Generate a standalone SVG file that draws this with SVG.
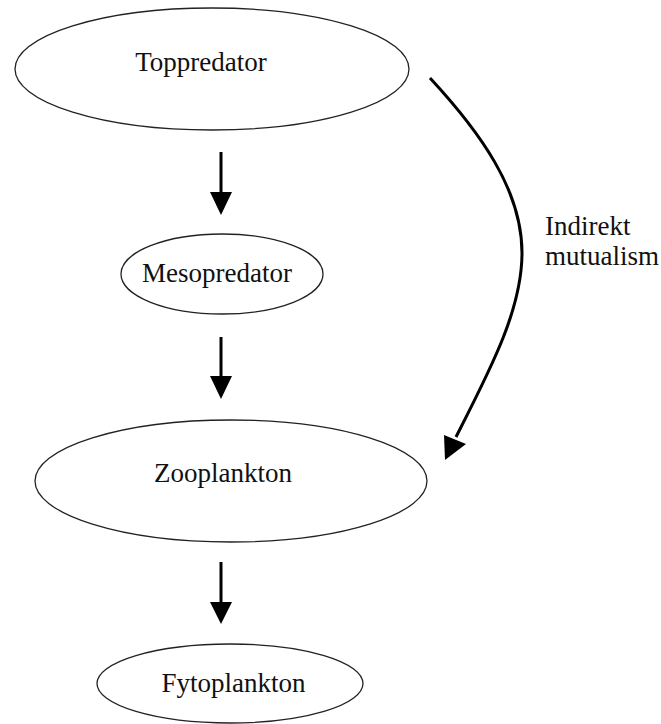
<svg xmlns="http://www.w3.org/2000/svg" width="661" height="724" viewBox="0 0 661 724">
<style>
.node ellipse{fill:#fff;stroke:#222;stroke-width:1.3}
text{font-family:"Liberation Serif","Times New Roman",serif;font-size:27px;fill:#111}
.c{text-anchor:middle}
.shaft{stroke:#000;stroke-width:3;fill:none}
.head{fill:#000}
</style>
<rect width="661" height="724" fill="#fff"/>
<g id="toppredator" class="node">
<ellipse cx="212" cy="69" rx="197" ry="61"/>
<text class="c" x="201" y="71">Toppredator</text>
</g>
<g id="mesopredator" class="node">
<ellipse cx="222" cy="274" rx="101" ry="40"/>
<text class="c" x="217" y="282">Mesopredator</text>
</g>
<g id="zooplankton" class="node">
<ellipse cx="231" cy="481" rx="196" ry="61"/>
<text class="c" x="223" y="482">Zooplankton</text>
</g>
<g id="fytoplankton" class="node">
<ellipse cx="230" cy="683.5" rx="133" ry="39.5"/>
<text class="c" x="233.5" y="692">Fytoplankton</text>
</g>
<g id="connectors">
<line class="shaft" x1="221" y1="152" x2="221" y2="194"/>
<polygon class="head" points="210,192 232,192 221,215"/>
<line class="shaft" x1="221" y1="337" x2="221" y2="378"/>
<polygon class="head" points="210,376 232,376 221,399"/>
<line class="shaft" x1="221" y1="562" x2="221" y2="604"/>
<polygon class="head" points="210,602 232,602 221,624"/>
<path class="shaft" d="M430,78 C480,132 522,190 522,253 C522,310 490,370 456,437"/>
<polygon class="head" points="445,460 444,435 466,444"/>
<text x="545" y="235">Indirekt</text>
<text x="545" y="265">mutualism</text>
</g>
</svg>
